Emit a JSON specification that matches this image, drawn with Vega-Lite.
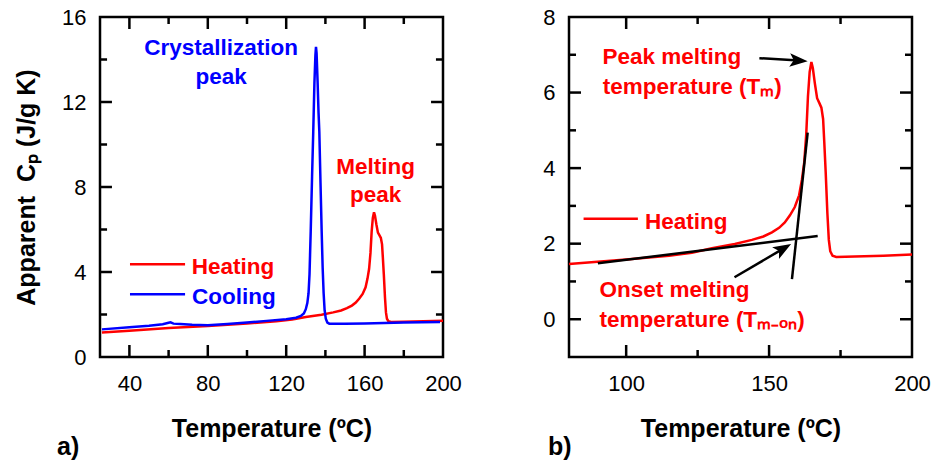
{
  "$schema": "https://vega.github.io/schema/vega-lite/v6.json",
  "padding": {"left": 13, "top": 4, "right": 5, "bottom": 5},
  "background": "white",
  "datasets": {
    "curves": [
      {"series": "Heating", "t": 26, "cp": 1.15},
      {"series": "Heating", "t": 40, "cp": 1.24},
      {"series": "Heating", "t": 60, "cp": 1.36},
      {"series": "Heating", "t": 80, "cp": 1.46},
      {"series": "Heating", "t": 100, "cp": 1.58},
      {"series": "Heating", "t": 115, "cp": 1.68},
      {"series": "Heating", "t": 123, "cp": 1.76},
      {"series": "Heating", "t": 130, "cp": 1.88},
      {"series": "Heating", "t": 138, "cp": 1.99},
      {"series": "Heating", "t": 144, "cp": 2.1},
      {"series": "Heating", "t": 148, "cp": 2.19},
      {"series": "Heating", "t": 151, "cp": 2.3},
      {"series": "Heating", "t": 153.5, "cp": 2.42},
      {"series": "Heating", "t": 155.5, "cp": 2.56},
      {"series": "Heating", "t": 157.3, "cp": 2.75},
      {"series": "Heating", "t": 159, "cp": 2.97},
      {"series": "Heating", "t": 160.5, "cp": 3.28},
      {"series": "Heating", "t": 161.5, "cp": 3.7},
      {"series": "Heating", "t": 162.3, "cp": 4.15},
      {"series": "Heating", "t": 163, "cp": 4.9},
      {"series": "Heating", "t": 163.6, "cp": 5.9},
      {"series": "Heating", "t": 164.2, "cp": 6.55},
      {"series": "Heating", "t": 164.8, "cp": 6.81},
      {"series": "Heating", "t": 165.3, "cp": 6.65},
      {"series": "Heating", "t": 166, "cp": 6.25},
      {"series": "Heating", "t": 166.8, "cp": 5.85},
      {"series": "Heating", "t": 167.6, "cp": 5.72},
      {"series": "Heating", "t": 168.3, "cp": 5.6},
      {"series": "Heating", "t": 168.9, "cp": 5.3},
      {"series": "Heating", "t": 169.3, "cp": 4.7},
      {"series": "Heating", "t": 169.8, "cp": 3.9},
      {"series": "Heating", "t": 170.4, "cp": 2.8},
      {"series": "Heating", "t": 170.9, "cp": 2.1},
      {"series": "Heating", "t": 171.4, "cp": 1.8},
      {"series": "Heating", "t": 172.2, "cp": 1.68},
      {"series": "Heating", "t": 173.5, "cp": 1.65},
      {"series": "Heating", "t": 180, "cp": 1.66},
      {"series": "Heating", "t": 190, "cp": 1.68},
      {"series": "Heating", "t": 200, "cp": 1.71},
      {"series": "Cooling", "t": 26, "cp": 1.3},
      {"series": "Cooling", "t": 40, "cp": 1.4},
      {"series": "Cooling", "t": 50, "cp": 1.47},
      {"series": "Cooling", "t": 57, "cp": 1.54},
      {"series": "Cooling", "t": 60, "cp": 1.61},
      {"series": "Cooling", "t": 61, "cp": 1.63},
      {"series": "Cooling", "t": 62.5, "cp": 1.57},
      {"series": "Cooling", "t": 66, "cp": 1.55},
      {"series": "Cooling", "t": 72, "cp": 1.52},
      {"series": "Cooling", "t": 80, "cp": 1.5},
      {"series": "Cooling", "t": 90, "cp": 1.55},
      {"series": "Cooling", "t": 100, "cp": 1.62},
      {"series": "Cooling", "t": 110, "cp": 1.7},
      {"series": "Cooling", "t": 120, "cp": 1.78},
      {"series": "Cooling", "t": 125, "cp": 1.85},
      {"series": "Cooling", "t": 127.5, "cp": 1.93},
      {"series": "Cooling", "t": 129, "cp": 2.05},
      {"series": "Cooling", "t": 130, "cp": 2.25},
      {"series": "Cooling", "t": 130.8, "cp": 2.55},
      {"series": "Cooling", "t": 131.4, "cp": 3.0},
      {"series": "Cooling", "t": 131.9, "cp": 3.9},
      {"series": "Cooling", "t": 132.5, "cp": 5.9},
      {"series": "Cooling", "t": 133.2, "cp": 8.5},
      {"series": "Cooling", "t": 133.8, "cp": 10.6},
      {"series": "Cooling", "t": 134.4, "cp": 12.9},
      {"series": "Cooling", "t": 134.9, "cp": 14.2},
      {"series": "Cooling", "t": 135.2, "cp": 14.6},
      {"series": "Cooling", "t": 135.5, "cp": 14.3},
      {"series": "Cooling", "t": 136, "cp": 13.0},
      {"series": "Cooling", "t": 136.5, "cp": 11.5},
      {"series": "Cooling", "t": 136.9, "cp": 10.6},
      {"series": "Cooling", "t": 137.5, "cp": 8.2},
      {"series": "Cooling", "t": 138.1, "cp": 5.9},
      {"series": "Cooling", "t": 138.6, "cp": 4.2},
      {"series": "Cooling", "t": 139.1, "cp": 3.0},
      {"series": "Cooling", "t": 139.6, "cp": 2.2},
      {"series": "Cooling", "t": 140.2, "cp": 1.8},
      {"series": "Cooling", "t": 141, "cp": 1.62},
      {"series": "Cooling", "t": 142, "cp": 1.57},
      {"series": "Cooling", "t": 150, "cp": 1.56},
      {"series": "Cooling", "t": 160, "cp": 1.58},
      {"series": "Cooling", "t": 180, "cp": 1.62},
      {"series": "Cooling", "t": 198.5, "cp": 1.65}
    ],
    "segments": [
      {"panel": "a", "series": "Heating", "part": "legend", "t": 40.3, "cp": 4.36, "t2": 68.4, "cp2": 4.36},
      {"panel": "a", "series": "Cooling", "part": "legend", "t": 40.3, "cp": 2.95, "t2": 68.4, "cp2": 2.95},
      {"panel": "a", "series": "Construction", "part": "tick", "t": 40, "cp": 0, "t2": 40, "cp2": 0.565},
      {"panel": "a", "series": "Construction", "part": "tick", "t": 40, "cp": 16, "t2": 40, "cp2": 15.435},
      {"panel": "a", "series": "Construction", "part": "tick", "t": 80, "cp": 0, "t2": 80, "cp2": 0.565},
      {"panel": "a", "series": "Construction", "part": "tick", "t": 80, "cp": 16, "t2": 80, "cp2": 15.435},
      {"panel": "a", "series": "Construction", "part": "tick", "t": 120, "cp": 0, "t2": 120, "cp2": 0.565},
      {"panel": "a", "series": "Construction", "part": "tick", "t": 120, "cp": 16, "t2": 120, "cp2": 15.435},
      {"panel": "a", "series": "Construction", "part": "tick", "t": 160, "cp": 0, "t2": 160, "cp2": 0.565},
      {"panel": "a", "series": "Construction", "part": "tick", "t": 160, "cp": 16, "t2": 160, "cp2": 15.435},
      {"panel": "a", "series": "Construction", "part": "tick", "t": 60, "cp": 0, "t2": 60, "cp2": 0.33},
      {"panel": "a", "series": "Construction", "part": "tick", "t": 60, "cp": 16, "t2": 60, "cp2": 15.67},
      {"panel": "a", "series": "Construction", "part": "tick", "t": 100, "cp": 0, "t2": 100, "cp2": 0.33},
      {"panel": "a", "series": "Construction", "part": "tick", "t": 100, "cp": 16, "t2": 100, "cp2": 15.67},
      {"panel": "a", "series": "Construction", "part": "tick", "t": 140, "cp": 0, "t2": 140, "cp2": 0.33},
      {"panel": "a", "series": "Construction", "part": "tick", "t": 140, "cp": 16, "t2": 140, "cp2": 15.67},
      {"panel": "a", "series": "Construction", "part": "tick", "t": 180, "cp": 0, "t2": 180, "cp2": 0.33},
      {"panel": "a", "series": "Construction", "part": "tick", "t": 180, "cp": 16, "t2": 180, "cp2": 15.67},
      {"panel": "a", "series": "Construction", "part": "tick", "t": 25, "cp": 4, "t2": 31.1, "cp2": 4},
      {"panel": "a", "series": "Construction", "part": "tick", "t": 200, "cp": 4, "t2": 193.9, "cp2": 4},
      {"panel": "a", "series": "Construction", "part": "tick", "t": 25, "cp": 8, "t2": 31.1, "cp2": 8},
      {"panel": "a", "series": "Construction", "part": "tick", "t": 200, "cp": 8, "t2": 193.9, "cp2": 8},
      {"panel": "a", "series": "Construction", "part": "tick", "t": 25, "cp": 12, "t2": 31.1, "cp2": 12},
      {"panel": "a", "series": "Construction", "part": "tick", "t": 200, "cp": 12, "t2": 193.9, "cp2": 12},
      {"panel": "a", "series": "Construction", "part": "tick", "t": 25, "cp": 2, "t2": 28.6, "cp2": 2},
      {"panel": "a", "series": "Construction", "part": "tick", "t": 200, "cp": 2, "t2": 196.4, "cp2": 2},
      {"panel": "a", "series": "Construction", "part": "tick", "t": 25, "cp": 6, "t2": 28.6, "cp2": 6},
      {"panel": "a", "series": "Construction", "part": "tick", "t": 200, "cp": 6, "t2": 196.4, "cp2": 6},
      {"panel": "a", "series": "Construction", "part": "tick", "t": 25, "cp": 10, "t2": 28.6, "cp2": 10},
      {"panel": "a", "series": "Construction", "part": "tick", "t": 200, "cp": 10, "t2": 196.4, "cp2": 10},
      {"panel": "a", "series": "Construction", "part": "tick", "t": 25, "cp": 14, "t2": 28.6, "cp2": 14},
      {"panel": "a", "series": "Construction", "part": "tick", "t": 200, "cp": 14, "t2": 196.4, "cp2": 14},
      {"panel": "b", "series": "Heating", "part": "legend", "t": 85.1, "cp": 2.66, "t2": 104.1, "cp2": 2.66},
      {"panel": "b", "series": "Construction", "part": "baseline tangent", "t": 90.1, "cp": 1.48, "t2": 167, "cp2": 2.2},
      {"panel": "b", "series": "Construction", "part": "onset tangent", "t": 158, "cp": 1.06, "t2": 163.5, "cp2": 4.94},
      {"panel": "b", "series": "Construction", "part": "peak arrow", "t": 146.6, "cp": 6.91, "t2": 160.5, "cp2": 6.85},
      {"panel": "b", "series": "Construction", "part": "onset arrow", "t": 137.9, "cp": 1.11, "t2": 155, "cp2": 1.87},
      {"panel": "b", "series": "Construction", "part": "tick", "t": 100, "cp": -1, "t2": 100, "cp2": -0.682},
      {"panel": "b", "series": "Construction", "part": "tick", "t": 100, "cp": 8, "t2": 100, "cp2": 7.682},
      {"panel": "b", "series": "Construction", "part": "tick", "t": 150, "cp": -1, "t2": 150, "cp2": -0.682},
      {"panel": "b", "series": "Construction", "part": "tick", "t": 150, "cp": 8, "t2": 150, "cp2": 7.682},
      {"panel": "b", "series": "Construction", "part": "tick", "t": 125, "cp": -1, "t2": 125, "cp2": -0.815},
      {"panel": "b", "series": "Construction", "part": "tick", "t": 125, "cp": 8, "t2": 125, "cp2": 7.815},
      {"panel": "b", "series": "Construction", "part": "tick", "t": 175, "cp": -1, "t2": 175, "cp2": -0.815},
      {"panel": "b", "series": "Construction", "part": "tick", "t": 175, "cp": 8, "t2": 175, "cp2": 7.815},
      {"panel": "b", "series": "Construction", "part": "tick", "t": 80, "cp": 0, "t2": 84.2, "cp2": 0},
      {"panel": "b", "series": "Construction", "part": "tick", "t": 200, "cp": 0, "t2": 195.8, "cp2": 0},
      {"panel": "b", "series": "Construction", "part": "tick", "t": 80, "cp": 2, "t2": 84.2, "cp2": 2},
      {"panel": "b", "series": "Construction", "part": "tick", "t": 200, "cp": 2, "t2": 195.8, "cp2": 2},
      {"panel": "b", "series": "Construction", "part": "tick", "t": 80, "cp": 4, "t2": 84.2, "cp2": 4},
      {"panel": "b", "series": "Construction", "part": "tick", "t": 200, "cp": 4, "t2": 195.8, "cp2": 4},
      {"panel": "b", "series": "Construction", "part": "tick", "t": 80, "cp": 6, "t2": 84.2, "cp2": 6},
      {"panel": "b", "series": "Construction", "part": "tick", "t": 200, "cp": 6, "t2": 195.8, "cp2": 6},
      {"panel": "b", "series": "Construction", "part": "tick", "t": 80, "cp": 1, "t2": 82.45, "cp2": 1},
      {"panel": "b", "series": "Construction", "part": "tick", "t": 200, "cp": 1, "t2": 197.55, "cp2": 1},
      {"panel": "b", "series": "Construction", "part": "tick", "t": 80, "cp": 3, "t2": 82.45, "cp2": 3},
      {"panel": "b", "series": "Construction", "part": "tick", "t": 200, "cp": 3, "t2": 197.55, "cp2": 3},
      {"panel": "b", "series": "Construction", "part": "tick", "t": 80, "cp": 5, "t2": 82.45, "cp2": 5},
      {"panel": "b", "series": "Construction", "part": "tick", "t": 200, "cp": 5, "t2": 197.55, "cp2": 5},
      {"panel": "b", "series": "Construction", "part": "tick", "t": 80, "cp": 7, "t2": 82.45, "cp2": 7},
      {"panel": "b", "series": "Construction", "part": "tick", "t": 200, "cp": 7, "t2": 197.55, "cp2": 7}
    ],
    "heads": [
      {"panel": "b", "series": "Construction", "part": "peak arrow", "t": 163.5, "cp": 6.83},
      {"panel": "b", "series": "Construction", "part": "onset arrow", "t": 157.7, "cp": 1.99}
    ],
    "labels": [
      {"panel": "a", "series": "Cooling", "role": "peak", "t": 86.8, "cp": 14.23, "label": "Crystallization"},
      {"panel": "a", "series": "Cooling", "role": "peak", "t": 86.8, "cp": 12.86, "label": "peak"},
      {"panel": "a", "series": "Heating", "role": "peak", "t": 165.6, "cp": 8.63, "label": "Melting"},
      {"panel": "a", "series": "Heating", "role": "peak", "t": 165.6, "cp": 7.29, "label": "peak"},
      {"panel": "a", "series": "Heating", "role": "note", "t": 71.8, "cp": 3.92, "label": "Heating"},
      {"panel": "a", "series": "Cooling", "role": "note", "t": 71.9, "cp": 2.51, "label": "Cooling"},
      {"panel": "b", "series": "Heating", "role": "note", "t": 91.7, "cp": 6.76, "label": "Peak melting"},
      {"panel": "b", "series": "Heating", "role": "note", "t": 91.8, "cp": 5.97, "label": "temperature (Tₘ)"},
      {"panel": "b", "series": "Heating", "role": "note", "t": 106.6, "cp": 2.39, "label": "Heating"},
      {"panel": "b", "series": "Heating", "role": "note", "t": 90.7, "cp": 0.59, "label": "Onset melting"},
      {"panel": "b", "series": "Heating", "role": "note", "t": 90.7, "cp": -0.2, "label": "temperature (Tₘ₋ₒₙ)"}
    ]
  },
  "hconcat": [
    {
      "width": 343,
      "height": 340,
      "title": {"text": "a)", "orient": "bottom", "anchor": "start", "frame": "group", "dx": -43, "offset": -6, "fontSize": 25, "fontWeight": "bold", "font": "Liberation Sans", "color": "#000"},
      "layer": [
        {
          "data": {"name": "curves"},
          "transform": [{"filter": "datum.series === 'Heating'"}],
          "mark": {"type": "line", "strokeWidth": 2.5},
          "encoding": {
            "x": {"field": "t", "type": "quantitative", "scale": {"domain": [25, 200], "nice": false, "zero": false},
                  "axis": {"orient": "bottom", "values": [40, 80, 120, 160, 200], "labelPadding": 16, "title": "Temperature (ºC)", "titlePadding": 22}},
            "y": {"field": "cp", "type": "quantitative", "scale": {"domain": [0, 16], "nice": false, "zero": false},
                  "axis": {"orient": "left", "values": [0, 4, 8, 12, 16], "labelPadding": 14, "title": "Apparent\u00a0\u00a0Cₚ (J/g K)", "titlePadding": 22}},
            "color": {"field": "series", "type": "nominal", "scale": {"domain": ["Heating", "Cooling", "Construction"], "range": ["#ff0000", "#0000ff", "#000000"]}, "legend": null}
          }
        },
        {
          "data": {"name": "curves"},
          "transform": [{"filter": "datum.series === 'Cooling'"}],
          "mark": {"type": "line", "strokeWidth": 2.5},
          "encoding": {
            "x": {"field": "t", "type": "quantitative"},
            "y": {"field": "cp", "type": "quantitative"},
            "color": {"field": "series", "type": "nominal", "legend": null}
          }
        },
        {
          "data": {"name": "segments"},
          "transform": [{"filter": "datum.panel === 'a'"}],
          "mark": {"type": "rule", "strokeWidth": 2.5},
          "encoding": {
            "x": {"field": "t", "type": "quantitative"},
            "x2": {"field": "t2"},
            "y": {"field": "cp", "type": "quantitative"},
            "y2": {"field": "cp2"},
            "color": {"field": "series", "type": "nominal", "legend": null}
          }
        },
        {
          "data": {"name": "labels"},
          "transform": [{"filter": "datum.panel === 'a' && datum.role === 'peak'"}],
          "mark": {"type": "text", "align": "center", "baseline": "alphabetic", "font": "Liberation Sans", "fontSize": 22.5, "fontWeight": "bold"},
          "encoding": {
            "x": {"field": "t", "type": "quantitative"},
            "y": {"field": "cp", "type": "quantitative"},
            "text": {"field": "label"},
            "color": {"field": "series", "type": "nominal", "legend": null}
          }
        },
        {
          "data": {"name": "labels"},
          "transform": [{"filter": "datum.panel === 'a' && datum.role === 'note'"}],
          "mark": {"type": "text", "align": "left", "baseline": "alphabetic", "font": "Liberation Sans", "fontSize": 22.5, "fontWeight": "bold"},
          "encoding": {
            "x": {"field": "t", "type": "quantitative"},
            "y": {"field": "cp", "type": "quantitative"},
            "text": {"field": "label"},
            "color": {"field": "series", "type": "nominal", "legend": null}
          }
        }
      ]
    },
    {
      "width": 343,
      "height": 340,
      "title": {"text": "b)", "orient": "bottom", "anchor": "start", "frame": "group", "dx": -21, "offset": -6, "fontSize": 25, "fontWeight": "bold", "font": "Liberation Sans", "color": "#000"},
      "layer": [
        {
          "data": {"name": "curves"},
          "transform": [{"filter": "datum.series === 'Heating' && datum.t >= 80"}],
          "mark": {"type": "line", "strokeWidth": 2.5},
          "encoding": {
            "x": {"field": "t", "type": "quantitative", "scale": {"domain": [80, 200], "nice": false, "zero": false},
                  "axis": {"orient": "bottom", "values": [100, 150, 200], "labelPadding": 16, "title": "Temperature (ºC)", "titlePadding": 22}},
            "y": {"field": "cp", "type": "quantitative", "scale": {"domain": [-1, 8], "nice": false, "zero": false},
                  "axis": {"orient": "left", "values": [0, 2, 4, 6, 8], "labelPadding": 14, "title": ""}},
            "color": {"field": "series", "type": "nominal", "scale": {"domain": ["Heating", "Cooling", "Construction"], "range": ["#ff0000", "#0000ff", "#000000"]}, "legend": null}
          }
        },
        {
          "data": {"name": "segments"},
          "transform": [{"filter": "datum.panel === 'b'"}],
          "mark": {"type": "rule", "strokeWidth": 2.5},
          "encoding": {
            "x": {"field": "t", "type": "quantitative"},
            "x2": {"field": "t2"},
            "y": {"field": "cp", "type": "quantitative"},
            "y2": {"field": "cp2"},
            "color": {"field": "series", "type": "nominal", "legend": null}
          }
        },
        {
          "data": {"name": "heads"},
          "transform": [{"filter": "datum.part === 'peak arrow'"}],
          "mark": {"type": "point", "shape": "M0,0 L-2,-0.75 L-1.55,0 L-2,0.75 Z", "size": 324, "angle": 4, "filled": true, "opacity": 1, "strokeWidth": 0},
          "encoding": {
            "x": {"field": "t", "type": "quantitative"},
            "y": {"field": "cp", "type": "quantitative"},
            "color": {"field": "series", "type": "nominal", "legend": null}
          }
        },
        {
          "data": {"name": "heads"},
          "transform": [{"filter": "datum.part === 'onset arrow'"}],
          "mark": {"type": "point", "shape": "M0,0 L-2,-0.75 L-1.55,0 L-2,0.75 Z", "size": 324, "angle": 329.6, "filled": true, "opacity": 1, "strokeWidth": 0},
          "encoding": {
            "x": {"field": "t", "type": "quantitative"},
            "y": {"field": "cp", "type": "quantitative"},
            "color": {"field": "series", "type": "nominal", "legend": null}
          }
        },
        {
          "data": {"name": "labels"},
          "transform": [{"filter": "datum.panel === 'b'"}],
          "mark": {"type": "text", "align": "left", "baseline": "alphabetic", "font": "Liberation Sans", "fontSize": 22.5, "fontWeight": "bold"},
          "encoding": {
            "x": {"field": "t", "type": "quantitative"},
            "y": {"field": "cp", "type": "quantitative"},
            "text": {"field": "label"},
            "color": {"field": "series", "type": "nominal", "legend": null}
          }
        }
      ]
    }
  ],
  "spacing": 78,
  "config": {
    "view": {"stroke": "#000", "strokeWidth": 2.5},
    "axis": {
      "grid": false,
      "domain": false,
      "ticks": false,
      "labelFont": "Liberation Sans",
      "labelFontSize": 22,
      "labelColor": "#000",
      "labelFlush": false,
      "labelOverlap": false,
      "titleFont": "Liberation Sans",
      "titleFontSize": 25,
      "titleFontWeight": "bold",
      "titleColor": "#000"
    }
  }
}
